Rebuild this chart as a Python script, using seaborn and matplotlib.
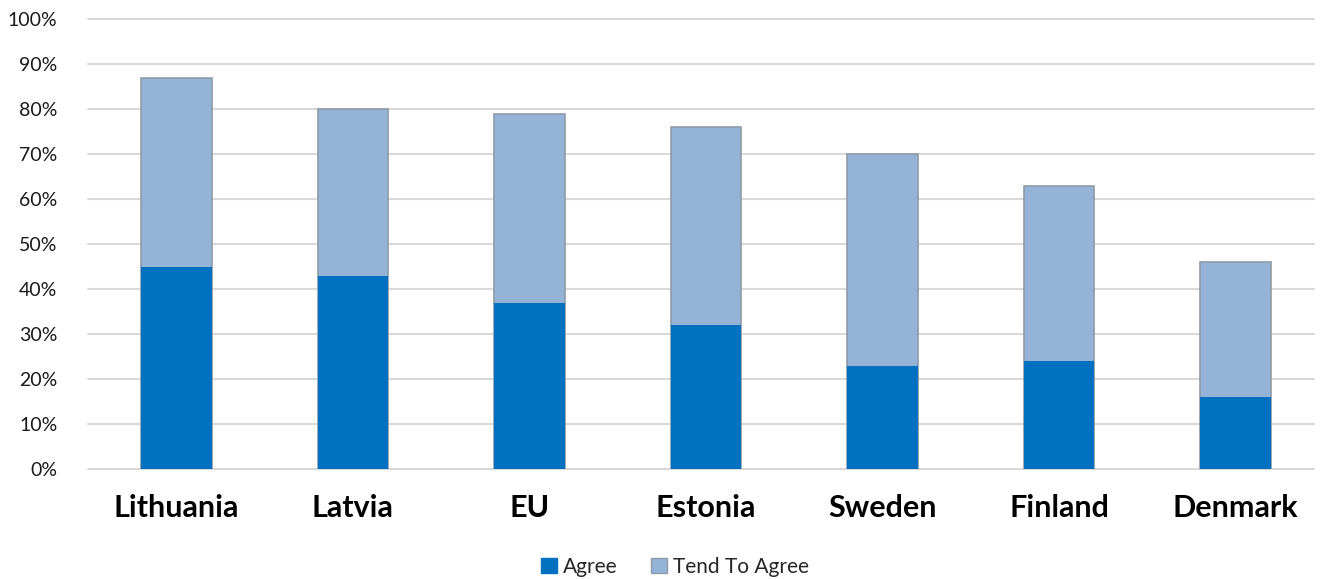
import matplotlib
matplotlib.use("Agg")
import matplotlib.pyplot as plt
import seaborn as sns
import pandas as pd
from matplotlib.patches import Patch
from matplotlib.ticker import PercentFormatter

countries = ["Lithuania", "Latvia", "EU", "Estonia", "Sweden", "Finland", "Denmark"]
agree = [45, 43, 37, 32, 23, 24, 16]
tend_to_agree = [42, 37, 42, 44, 47, 39, 30]
series_names = ["Agree", "Tend To Agree"]
y_ticks = [0, 10, 20, 30, 40, 50, 60, 70, 80, 90, 100]

sns.set_theme(style="white")
plt.rcParams['font.family'] = ['Lato', 'DejaVu Sans']

df = pd.DataFrame({
    "country": countries,
    "agree": agree,
    "total": [a + t for a, t in zip(agree, tend_to_agree)],
})

c_agree = "#0070C0"
c_tend = "#95B3D7"

fig = plt.figure(figsize=(13.24, 5.79), dpi=100)
ax = fig.add_axes([0.0665, 0.19, 0.926, 0.777])

sns.barplot(data=df, x="country", y="total", color=c_tend, width=0.40,
            edgecolor="#8E9BA8", linewidth=1.2, saturation=1, ax=ax, zorder=3)
sns.barplot(data=df, x="country", y="agree", color=c_agree, width=0.40,
            linewidth=0, saturation=1, ax=ax, zorder=4)

ax.set_ylim(0, 100)
ax.set_xlim(-0.5, 6.445)
ax.set_yticks(y_ticks)
ax.yaxis.set_major_formatter(PercentFormatter(decimals=0))
ax.grid(axis="y", color="#D9D9D9", linewidth=1.5, zorder=0)
ax.set_axisbelow(True)
for s in ax.spines.values():
    s.set_visible(False)
ax.set_xlabel("")
ax.set_ylabel("")
ax.tick_params(axis="y", labelsize=14, length=0, pad=22, colors="#1a1a1a")
ax.tick_params(axis="x", labelsize=22, length=0, pad=18)
for lbl in ax.get_xticklabels():
    lbl.set_fontweight("bold")
    lbl.set_color("black")
for line in ax.get_ygridlines():
    line.set_clip_on(False)

handles = [Patch(facecolor=c_agree, edgecolor=c_agree),
           Patch(facecolor=c_tend, edgecolor="#8E9BA8")]
fig.legend(handles, series_names, loc="center", bbox_to_anchor=(0.51, 0.021),
           ncol=2, frameon=False, fontsize=15, handlelength=0.75, handleheight=0.75,
           handletextpad=0.3, columnspacing=1.6)

fig.savefig("out.png", dpi=100)
